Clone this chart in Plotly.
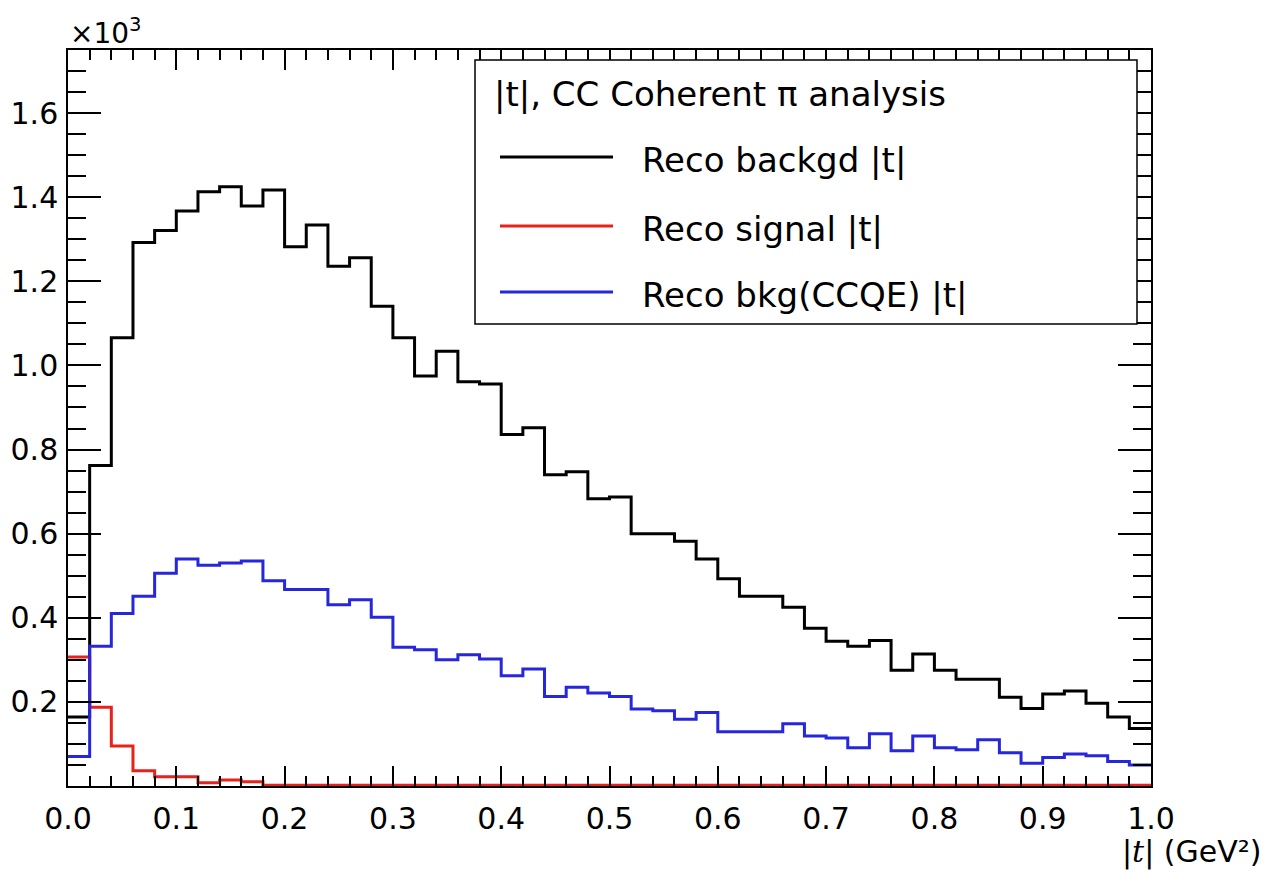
import numpy as np
import plotly.graph_objects as go

# ---------------- data (counts per bin, 50 bins of |t| from 0 to 1 GeV^2) ----------------
t_min = 0.0
t_max = 1.0
n_bins = 50

reco_backgd = [164, 762, 1066, 1292, 1321, 1367, 1413, 1425, 1379, 1417,
               1282, 1334, 1236, 1256, 1141, 1066, 975, 1034, 961, 956,
               836, 852, 740, 747, 683, 687, 600, 600, 582, 540,
               493, 451, 451, 425, 375, 344, 332, 346, 275, 314,
               275, 254, 254, 211, 184, 219, 226, 197, 164, 137]

reco_signal = [307, 187, 95, 36, 22, 22, 8, 14, 10, 2,
               2, 2, 2, 2, 2, 2, 2, 2, 2, 2,
               2, 2, 2, 2, 2, 2, 2, 2, 2, 2,
               2, 2, 2, 2, 2, 2, 2, 2, 2, 2,
               2, 2, 2, 2, 2, 2, 2, 2, 2, 2]

reco_ccqe = [70, 332, 410, 451, 506, 540, 525, 530, 535, 488,
             467, 467, 431, 443, 401, 330, 324, 300, 312, 302,
             262, 278, 213, 235, 221, 213, 183, 179, 159, 175,
             129, 129, 129, 148, 119, 114, 91, 124, 84, 119,
             91, 86, 110, 79, 54, 68, 76, 72, 58, 50]

series_names = ["Reco backgd |t|", "Reco signal |t|", "Reco bkg(CCQE) |t|"]
legend_header = "|t|, CC Coherent \u03c0 analysis"
x_tick_labels = ["0.0", "0.1", "0.2", "0.3", "0.4", "0.5", "0.6", "0.7", "0.8", "0.9", "1.0"]
y_tick_labels = ["0.2", "0.4", "0.6", "0.8", "1.0", "1.2", "1.4", "1.6"]
y_scale = 1000.0  # axis shown in units of 10^3

# ---------------- styles ----------------
colors = ["#000000", "#e8221b", "#2626dc"]
FONT = "DejaVu Sans"

edges = np.linspace(t_min, t_max, n_bins + 1)

fig = go.Figure()
for name, vals, col in zip(series_names, [reco_backgd, reco_signal, reco_ccqe], colors):
    y = np.array(vals + [vals[-1]], dtype=float) / y_scale
    fig.add_trace(go.Scatter(x=edges, y=y, mode="lines", line_shape="hv",
                             line=dict(color=col, width=3), name=name,
                             showlegend=False, hoverinfo="skip"))

x_tickvals = [float(s) for s in x_tick_labels]
y_tickvals = [float(s) for s in y_tick_labels]

fig.update_xaxes(range=[t_min, t_max], tickmode="array", tickvals=x_tickvals, ticktext=x_tick_labels,
                 ticks="inside", ticklen=20, tickwidth=1.5, tickcolor="black",
                 minor=dict(ticks="inside", tickmode="linear", tick0=0, dtick=0.02, ticklen=10,
                            tickwidth=1.5, tickcolor="black"),
                 showline=True, linecolor="black", linewidth=1.5, mirror="allticks",
                 showgrid=False, zeroline=False,
                 tickfont=dict(family=FONT, size=30, color="black"), ticklabelstandoff=5)
fig.update_yaxes(range=[0, 1.75], tickmode="array", tickvals=y_tickvals, ticktext=y_tick_labels,
                 ticks="inside", ticklen=33, tickwidth=1.5, tickcolor="black",
                 minor=dict(ticks="inside", tickmode="linear", tick0=0, dtick=0.05, ticklen=18,
                            tickwidth=1.5, tickcolor="black"),
                 showline=True, linecolor="black", linewidth=1.5, mirror="allticks",
                 showgrid=False, zeroline=False,
                 tickfont=dict(family=FONT, size=30, color="black"), ticklabelstandoff=2)

# pixel helpers for the paper-space legend / annotations
L, R, T, B = 68, 115, 50, 94
W, H = 1266, 880
pw, ph = W - L - R, H - T - B
def px(x): return (x - L) / pw
def py(y): return (H - B - y) / ph

shapes = [dict(type="rect", xref="paper", yref="paper", x0=px(475), x1=px(1137), y0=py(324), y1=py(60),
               line=dict(color="black", width=1.5), fillcolor="white", layer="above")]
annotations = [
    dict(text=legend_header, xref="paper", yref="paper", x=px(492), y=py(94), xanchor="left",
         yanchor="middle", showarrow=False, font=dict(family=FONT, size=34, color="black")),
    dict(text="\u00d710<sup>3</sup>", xref="paper", yref="paper", x=0, y=1, xanchor="left",
         yanchor="bottom", yshift=-2, showarrow=False, font=dict(family=FONT, size=28, color="black")),
    dict(text="|<span style='font-family:DejaVu Serif'><i>t</i></span>| (GeV\u00b2)", xref="paper",
         yref="paper", x=px(1263), y=py(852), xanchor="right", yanchor="middle", showarrow=False,
         font=dict(family=FONT, size=30, color="black")),
]
entry_y = [157, 226, 292]
for name, col, ey in zip(series_names, colors, entry_y):
    shapes.append(dict(type="line", xref="paper", yref="paper", x0=px(500), x1=px(613), y0=py(ey), y1=py(ey),
                       line=dict(color=col, width=3), layer="above"))
    annotations.append(dict(text=name, xref="paper", yref="paper", x=px(640), y=py(ey + 3), xanchor="left",
                            yanchor="middle", showarrow=False, font=dict(family=FONT, size=34, color="black")))

fig.update_layout(width=W, height=H, margin=dict(l=L, r=R, t=T, b=B, autoexpand=False),
                  paper_bgcolor="white", plot_bgcolor="white", showlegend=False,
                  shapes=shapes, annotations=annotations)

fig.write_html("out.html")
